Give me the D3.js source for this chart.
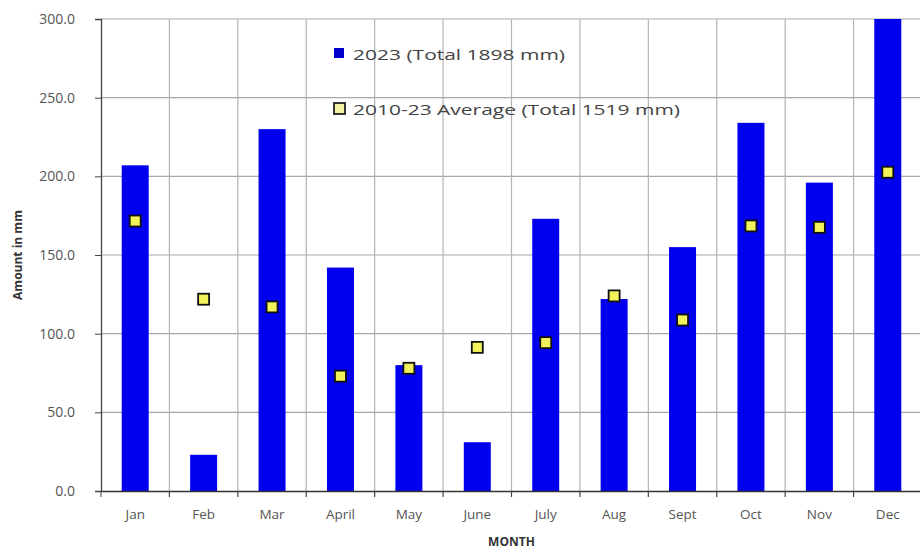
<!DOCTYPE html>
<html><head><meta charset="utf-8">
<script src="https://cdn.jsdelivr.net/npm/d3@7"></script>
<style>body{margin:0;background:#fff}svg{display:block}</style>
</head><body>
<svg id="c" width="920" height="549"></svg>
<script>
const months = ["Jan","Feb","Mar","April","May","June","July","Aug","Sept","Oct","Nov","Dec"];
const rain2023 = [207, 23, 230, 142, 80, 31, 173, 122, 155, 234, 196, 305];
const avg2010_23 = [171.6, 121.9, 117, 73, 78, 91.3, 94.3, 124, 108.7, 168.5, 167.6, 202.6];
const yTicks = [0, 50, 100, 150, 200, 250, 300];
const legendLabels = ["2023 (Total 1898 mm)", "2010-23 Average (Total 1519 mm)"];

const svg = d3.select("#c");
const L = 101, R = 922, T = 19, B = 491;
const x = d3.scaleBand().domain(months).range([L, R]).paddingInner(0).paddingOuter(0);
const y = d3.scaleLinear().domain([0, 300]).range([B, T]).clamp(true);
const font = "'Open Sans', 'DejaVu Sans', sans-serif";

// horizontal grid
svg.append("g").selectAll("line").data(yTicks.filter(d => d > 0)).join("line")
  .attr("x1", L).attr("x2", R).attr("y1", d => y(d)).attr("y2", d => y(d))
  .attr("stroke", "#a8a8a8").attr("stroke-width", 1.2);
// vertical grid
svg.append("g").selectAll("line").data(months.slice(1)).join("line")
  .attr("x1", d => x(d)).attr("x2", d => x(d)).attr("y1", T).attr("y2", B)
  .attr("stroke", "#b4b4b4").attr("stroke-width", 1.2);

// bars
const bw = 27;
svg.append("g").selectAll("rect").data(rain2023).join("rect")
  .attr("x", (d, i) => x(months[i]) + x.bandwidth() / 2 - bw / 2)
  .attr("width", bw)
  .attr("y", d => y(d))
  .attr("height", d => B - y(d))
  .attr("fill", "#0000ee");

// axes
const yAxis = d3.axisLeft(y).tickValues(yTicks).tickFormat(d3.format(".1f")).tickSize(6).tickPadding(20);
const gy = svg.append("g").attr("transform", `translate(${L},0)`).call(yAxis);
gy.select(".domain").attr("stroke", "#444").attr("stroke-width", 1.3);
gy.selectAll(".tick line").attr("stroke", "#444");
gy.selectAll("text").attr("font-family", font).attr("font-size", 14).attr("fill", "#555");

const xAxis = d3.axisBottom(x).tickSize(0).tickPadding(0);
const gx = svg.append("g").attr("transform", `translate(0,${B})`).call(xAxis);
gx.select(".domain").attr("stroke", "#333").attr("stroke-width", 1.5);
gx.selectAll("text").attr("font-family", font).attr("font-size", 13.5).attr("fill", "#555").attr("dy", "2.1em");
// boundary tick marks below axis
svg.append("g").selectAll("line").data(months.slice(1)).join("line")
  .attr("x1", d => x(d)).attr("x2", d => x(d)).attr("y1", B).attr("y2", B + 6)
  .attr("stroke", "#444").attr("stroke-width", 1.2);
svg.append("line").attr("x1", L).attr("x2", L).attr("y1", B).attr("y2", B + 6).attr("stroke", "#444");

// average markers
const ms = 11;
svg.append("g").selectAll("rect").data(avg2010_23).join("rect")
  .attr("x", (d, i) => x(months[i]) + x.bandwidth() / 2 - ms / 2)
  .attr("y", d => y(d) - ms / 2)
  .attr("width", ms).attr("height", ms)
  .attr("fill", "#f2f25a").attr("stroke", "#111").attr("stroke-width", 1.8);

// axis titles
svg.append("text").attr("x", x.range()[0] + (x.range()[1] - x.range()[0]) / 2).attr("y", 546)
  .attr("text-anchor", "middle").attr("font-family", font).attr("font-size", 12)
  .attr("font-weight", "bold").attr("fill", "#333").text("MONTH");
svg.append("text").attr("transform", `translate(22,255) rotate(-90)`)
  .attr("text-anchor", "middle").attr("font-family", font).attr("font-size", 12)
  .attr("font-weight", "bold").attr("fill", "#333").text("Amount in mm");

// legend
const lg = svg.append("g");
lg.append("rect").attr("x", 334).attr("y", 48).attr("width", 10).attr("height", 10).attr("fill", "#0000cc");
lg.append("text").attr("x", 353).attr("y", 60).attr("font-family", font).attr("font-size", 14.5)
  .attr("fill", "#444").attr("textLength", 212).attr("lengthAdjust", "spacingAndGlyphs").text(legendLabels[0]);
lg.append("rect").attr("x", 334).attr("y", 103).attr("width", 11).attr("height", 11)
  .attr("fill", "#f2f2a0").attr("stroke", "#222").attr("stroke-width", 1.8);
lg.append("text").attr("x", 353).attr("y", 115).attr("font-family", font).attr("font-size", 14.5)
  .attr("fill", "#444").attr("textLength", 327).attr("lengthAdjust", "spacingAndGlyphs").text(legendLabels[1]);
</script>
</body></html>
